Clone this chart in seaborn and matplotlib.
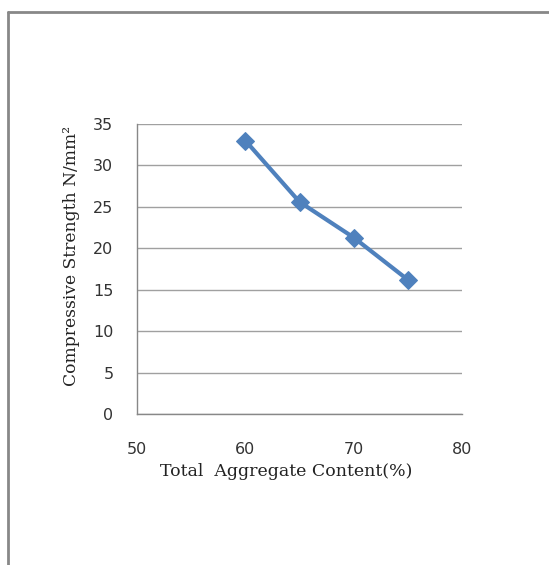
import matplotlib
matplotlib.use("Agg")
import matplotlib.pyplot as plt
import seaborn as sns
import pandas as pd
from matplotlib.lines import Line2D

aggregate = [60, 65, 70, 75]
strength = [33.0, 25.6, 21.3, 16.2]
xticks = [50, 60, 70, 80]
yticks = [0, 5, 10, 15, 20, 25, 30, 35]

df = pd.DataFrame({"agg": aggregate, "str": strength})

sns.set_style("white")
fig = plt.figure(figsize=(5.49, 5.65), dpi=100)
L, R, T, B = 137, 462, 124, 414
ax = fig.add_axes([L/549, 1-B/565, (R-L)/549, (B-T)/565])

sns.lineplot(data=df, x="agg", y="str", ax=ax, color="#4F81BD", linewidth=3,
             marker="D", markersize=9, markeredgecolor="#4F81BD")

ax.set_xlim(50, 80)
ax.set_ylim(0, 35)
ax.set_xticks(xticks)
ax.set_yticks(yticks)
ax.grid(axis="y", color="#A0A0A0", linewidth=1)
ax.grid(axis="x", visible=False)
for s in ["top", "right"]:
    ax.spines[s].set_visible(False)
for s in ["left", "bottom"]:
    ax.spines[s].set_color("#888888")
    ax.spines[s].set_linewidth(1)
ax.tick_params(axis="both", direction="out", length=5, color="#888888", width=1,
               labelsize=11.5, labelcolor="#333333")
ax.tick_params(axis="y", pad=12)
ax.tick_params(axis="x", pad=15)
for lab in ax.get_xticklabels() + ax.get_yticklabels():
    lab.set_family("DejaVu Sans")
ax.set_xlabel("Total  Aggregate Content(%)", family="DejaVu Serif", fontsize=12.5,
              color="#222222")
ax.set_ylabel("Compressive Strength N/mm²", family="DejaVu Serif", fontsize=12.3,
              color="#222222")
ax.xaxis.set_label_coords((286.5-L)/(R-L), -(471-B)/(B-T), transform=ax.transAxes)
ax.xaxis.label.set_va("center")
ax.yaxis.set_label_coords(-(L-72)/(R-L), (B-256)/(B-T), transform=ax.transAxes)
ax.yaxis.label.set_va("center")

# outer frame
fig.add_artist(Line2D([8/549, 8/549], [0, 1-12/565], transform=fig.transFigure,
                      color="#888888", linewidth=2))
fig.add_artist(Line2D([8/549, 1], [1-12/565, 1-12/565], transform=fig.transFigure,
                      color="#888888", linewidth=2))

fig.savefig("out.png", dpi=100)
